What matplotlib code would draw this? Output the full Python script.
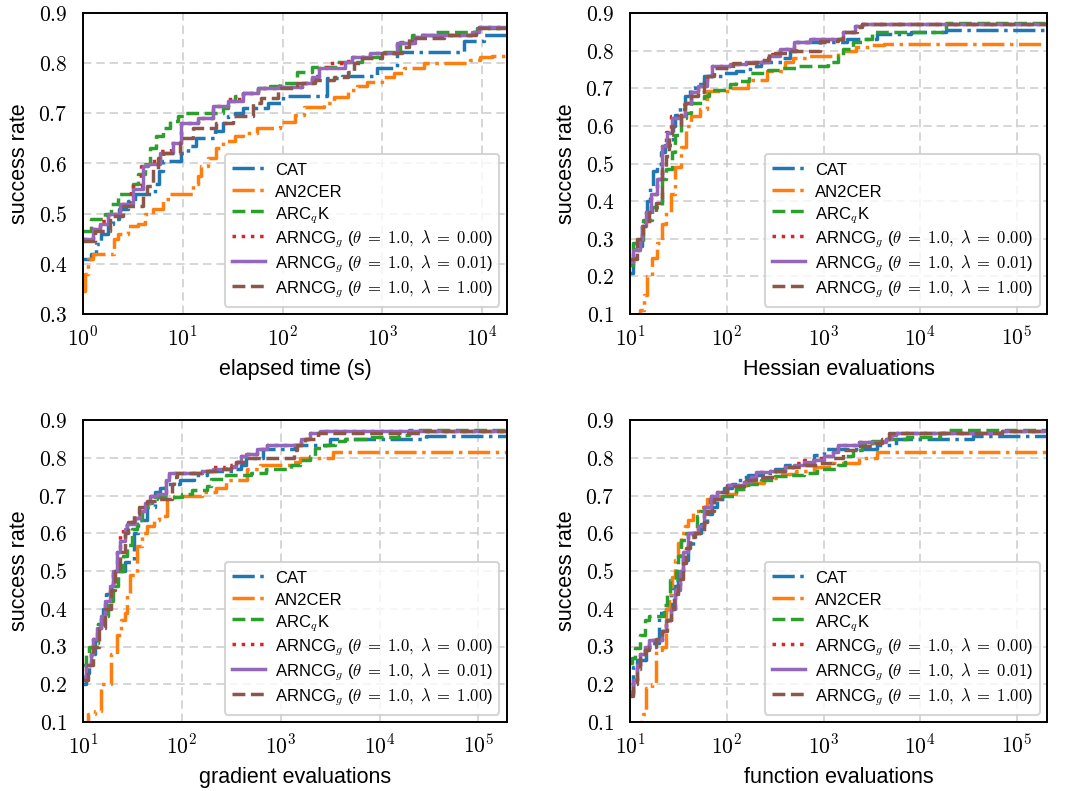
import numpy as np
import matplotlib
matplotlib.use("Agg")
import matplotlib.pyplot as plt
from matplotlib.ticker import FuncFormatter, LogLocator, NullLocator, MultipleLocator

# solvers and their styles
solvers = ["CAT", "AN2CER", r"ARC$_q$K",
           r"ARNCG$_g$ ($\theta\;=\;1.0,\;\lambda\;=\;0.00$)",
           r"ARNCG$_g$ ($\theta\;=\;1.0,\;\lambda\;=\;0.01$)",
           r"ARNCG$_g$ ($\theta\;=\;1.0,\;\lambda\;=\;1.00$)"]
colors = ["#1f77b4", "#ff7f0e", "#2ca02c", "#d62728", "#9467bd", "#8c564b"]
styles = ["-.", "-.", "--", ":", "-", "--"]

# ---- elapsed time (log10 of seconds, success rate) ----
time_cat_lx = [0, 0.08, 0.13, 0.18, 0.25, 0.3, 0.36, 0.45, 0.52, 0.72, 0.76, 0.8, 0.98, 1.05, 1.13, 1.32, 1.4, 1.45, 1.52, 1.6, 1.85, 2.0, 2.45, 2.6, 2.95, 3.15, 3.82, 4.02, 4.25]
time_cat_y = [0.41, 0.42, 0.44, 0.46, 0.48, 0.49, 0.51, 0.525, 0.54, 0.56, 0.585, 0.605, 0.62, 0.635, 0.65, 0.665, 0.68, 0.695, 0.70, 0.71, 0.72, 0.735, 0.77, 0.775, 0.79, 0.823, 0.845, 0.857, 0.857]
time_an2_lx = [0, 0.02, 0.05, 0.1, 0.31, 0.35, 0.45, 0.55, 0.62, 0.7, 0.8, 0.87, 1.1, 1.15, 1.18, 1.25, 1.33, 1.4, 1.52, 1.6, 1.74, 1.97, 2.12, 2.22, 2.42, 2.52, 2.66, 2.75, 2.85, 3.0, 3.12, 3.22, 3.42, 3.88, 3.98, 4.1, 4.25]
time_an2_y = [0.345, 0.38, 0.41, 0.42, 0.45, 0.46, 0.475, 0.48, 0.50, 0.51, 0.53, 0.54, 0.56, 0.575, 0.595, 0.61, 0.63, 0.645, 0.655, 0.66, 0.67, 0.683, 0.697, 0.713, 0.72, 0.733, 0.747, 0.755, 0.763, 0.773, 0.78, 0.79, 0.80, 0.807, 0.813, 0.815, 0.815]
time_arc_lx = [0, 0.08, 0.22, 0.28, 0.35, 0.5, 0.55, 0.62, 0.67, 0.73, 0.8, 0.87, 0.95, 1.02, 1.4, 1.45, 1.52, 1.6, 1.75, 1.87, 1.97, 2.15, 2.3, 2.55, 2.8, 3.02, 3.18, 3.3, 3.5, 3.95, 4.25]
time_arc_y = [0.465, 0.49, 0.50, 0.52, 0.54, 0.56, 0.58, 0.60, 0.63, 0.655, 0.67, 0.685, 0.695, 0.70, 0.71, 0.725, 0.735, 0.74, 0.75, 0.755, 0.76, 0.783, 0.793, 0.803, 0.813, 0.823, 0.843, 0.857, 0.863, 0.87, 0.87]
time_l0_lx = [0, 0.1, 0.17, 0.25, 0.37, 0.48, 0.58, 0.65, 0.77, 0.88, 0.98, 1.15, 1.3, 1.45, 1.6, 1.75, 1.95, 2.2, 2.3, 2.37, 2.45, 2.63, 2.7, 2.88, 3.15, 3.3, 3.4, 3.9, 3.97, 4.25]
time_l0_y = [0.45, 0.47, 0.485, 0.50, 0.52, 0.555, 0.595, 0.605, 0.625, 0.64, 0.68, 0.69, 0.715, 0.728, 0.74, 0.75, 0.752, 0.76, 0.775, 0.79, 0.80, 0.805, 0.813, 0.82, 0.84, 0.852, 0.857, 0.863, 0.872, 0.872]
time_l1_lx = [0, 0.1, 0.17, 0.25, 0.37, 0.5, 0.6, 0.65, 0.77, 0.9, 0.98, 1.15, 1.3, 1.45, 1.6, 1.75, 1.95, 2.2, 2.3, 2.37, 2.63, 2.7, 2.88, 3.15, 3.33, 3.4, 3.9, 3.97, 4.25]
time_l1_y = [0.45, 0.47, 0.48, 0.50, 0.52, 0.55, 0.595, 0.60, 0.62, 0.64, 0.68, 0.69, 0.715, 0.725, 0.74, 0.75, 0.752, 0.76, 0.773, 0.79, 0.803, 0.813, 0.82, 0.84, 0.852, 0.857, 0.863, 0.872, 0.872]
time_l2_lx = [0, 0.12, 0.27, 0.4, 0.6, 0.64, 0.7, 0.75, 0.8, 0.97, 1.1, 1.33, 1.5, 1.7, 1.78, 1.95, 2.15, 2.33, 2.52, 2.66, 2.72, 2.8, 3.0, 3.2, 3.27, 3.62, 3.94, 4.25]
time_l2_y = [0.445, 0.465, 0.495, 0.515, 0.54, 0.555, 0.59, 0.61, 0.62, 0.65, 0.67, 0.68, 0.695, 0.72, 0.73, 0.75, 0.76, 0.767, 0.773, 0.783, 0.80, 0.81, 0.82, 0.833, 0.85, 0.857, 0.87, 0.87]

# ---- Hessian evaluations ----
hess_cat_lx = [1.0, 1.03, 1.06, 1.12, 1.15, 1.18, 1.21, 1.24, 1.28, 1.32, 1.36, 1.44, 1.47, 1.52, 1.57, 1.62, 1.67, 1.77, 1.97, 2.1, 2.2, 2.3, 2.35, 2.57, 2.65, 2.72, 3.24, 3.55, 3.9, 4.27, 5.31]
hess_cat_y = [0.21, 0.25, 0.28, 0.33, 0.36, 0.40, 0.44, 0.48, 0.50, 0.53, 0.55, 0.60, 0.63, 0.655, 0.68, 0.70, 0.71, 0.733, 0.74, 0.745, 0.75, 0.76, 0.769, 0.78, 0.80, 0.822, 0.832, 0.844, 0.85, 0.856, 0.856]
hess_an2_lx = [1.0, 1.1, 1.14, 1.18, 1.23, 1.28, 1.33, 1.37, 1.42, 1.47, 1.53, 1.58, 1.63, 1.72, 1.8, 2.03, 2.22, 2.42, 2.6, 2.68, 2.84, 3.15, 3.34, 3.5, 3.63, 5.31]
hess_an2_y = [0.09, 0.11, 0.15, 0.2, 0.25, 0.29, 0.34, 0.37, 0.42, 0.49, 0.545, 0.60, 0.625, 0.645, 0.693, 0.70, 0.722, 0.745, 0.77, 0.78, 0.786, 0.80, 0.81, 0.815, 0.818, 0.818]
hess_arc_lx = [1.0, 1.03, 1.13, 1.23, 1.33, 1.37, 1.43, 1.47, 1.53, 1.58, 1.63, 1.77, 1.82, 2.03, 2.1, 2.23, 2.43, 2.55, 2.72, 3.05, 3.15, 3.2, 3.3, 3.4, 3.5, 4.27, 5.31]
hess_arc_y = [0.23, 0.29, 0.35, 0.385, 0.46, 0.485, 0.53, 0.575, 0.62, 0.635, 0.66, 0.68, 0.695, 0.71, 0.72, 0.74, 0.748, 0.755, 0.76, 0.77, 0.787, 0.805, 0.822, 0.832, 0.85, 0.873, 0.873]
hess_l0_lx = [1.0, 1.03, 1.1, 1.12, 1.17, 1.22, 1.28, 1.33, 1.37, 1.42, 1.53, 1.57, 1.63, 1.7, 1.8, 1.85, 2.03, 2.2, 2.4, 2.47, 2.55, 2.69, 2.86, 3.2, 3.33, 3.4, 5.31]
hess_l0_y = [0.237, 0.27, 0.30, 0.333, 0.37, 0.42, 0.46, 0.547, 0.585, 0.625, 0.63, 0.66, 0.69, 0.705, 0.733, 0.76, 0.765, 0.77, 0.78, 0.79, 0.805, 0.822, 0.832, 0.85, 0.866, 0.872, 0.872]
hess_l1_lx = [1.0, 1.03, 1.1, 1.12, 1.17, 1.22, 1.28, 1.33, 1.38, 1.43, 1.53, 1.57, 1.63, 1.7, 1.8, 1.85, 2.03, 2.2, 2.44, 2.55, 2.69, 2.86, 3.2, 3.33, 3.4, 5.31]
hess_l1_y = [0.237, 0.27, 0.30, 0.333, 0.37, 0.42, 0.46, 0.547, 0.58, 0.62, 0.625, 0.66, 0.69, 0.705, 0.733, 0.76, 0.765, 0.77, 0.787, 0.805, 0.822, 0.832, 0.85, 0.866, 0.872, 0.872]
hess_l2_lx = [1.0, 1.07, 1.13, 1.2, 1.27, 1.33, 1.37, 1.4, 1.43, 1.53, 1.57, 1.63, 1.7, 1.77, 1.8, 1.87, 2.06, 2.31, 2.44, 2.62, 2.96, 3.15, 3.2, 3.35, 3.4, 5.31]
hess_l2_y = [0.245, 0.3, 0.335, 0.37, 0.395, 0.485, 0.52, 0.575, 0.60, 0.645, 0.66, 0.68, 0.69, 0.725, 0.733, 0.755, 0.768, 0.776, 0.795, 0.80, 0.825, 0.832, 0.85, 0.864, 0.872, 0.872]

# ---- gradient evaluations ----
grad_cat_lx = [1.0, 1.03, 1.06, 1.08, 1.12, 1.15, 1.2, 1.23, 1.28, 1.3, 1.42, 1.52, 1.56, 1.65, 1.73, 1.78, 1.83, 1.98, 2.12, 2.25, 2.55, 2.6, 2.65, 2.82, 3.15, 3.5, 4.47, 5.29]
grad_cat_y = [0.2, 0.23, 0.25, 0.28, 0.32, 0.36, 0.40, 0.44, 0.46, 0.50, 0.525, 0.60, 0.635, 0.67, 0.71, 0.72, 0.73, 0.742, 0.755, 0.765, 0.77, 0.78, 0.80, 0.824, 0.835, 0.849, 0.857, 0.857]
grad_an2_lx = [1.0, 1.05, 1.12, 1.18, 1.28, 1.34, 1.38, 1.42, 1.45, 1.48, 1.55, 1.6, 1.65, 1.72, 1.77, 1.85, 1.92, 2.2, 2.35, 2.45, 2.66, 2.79, 3.1, 3.2, 3.53, 5.29]
grad_an2_y = [0.08, 0.12, 0.13, 0.2, 0.28, 0.33, 0.37, 0.39, 0.44, 0.49, 0.565, 0.6, 0.62, 0.635, 0.645, 0.69, 0.70, 0.71, 0.72, 0.74, 0.77, 0.78, 0.79, 0.80, 0.815, 0.815]
grad_arc_lx = [1.0, 1.03, 1.06, 1.1, 1.15, 1.2, 1.25, 1.3, 1.35, 1.4, 1.45, 1.5, 1.55, 1.6, 1.65, 1.7, 1.75, 2.0, 2.1, 2.25, 2.3, 2.45, 2.7, 2.85, 3.1, 3.2, 3.3, 3.35, 3.45, 3.55, 3.65, 3.9, 4.2, 4.3, 5.29]
grad_arc_y = [0.25, 0.28, 0.3, 0.31, 0.36, 0.38, 0.42, 0.46, 0.5, 0.54, 0.57, 0.61, 0.635, 0.66, 0.68, 0.69, 0.695, 0.705, 0.715, 0.725, 0.745, 0.754, 0.76, 0.769, 0.78, 0.795, 0.805, 0.826, 0.835, 0.845, 0.85, 0.855, 0.86, 0.873, 0.873]
grad_l0_lx = [1.0, 1.03, 1.08, 1.1, 1.14, 1.18, 1.22, 1.27, 1.3, 1.34, 1.37, 1.4, 1.45, 1.53, 1.58, 1.63, 1.68, 1.75, 1.84, 1.87, 2.2, 2.3, 2.45, 2.52, 2.6, 2.65, 2.76, 2.86, 3.21, 3.3, 3.4, 5.29]
grad_l0_y = [0.22, 0.25, 0.28, 0.32, 0.35, 0.38, 0.42, 0.46, 0.5, 0.55, 0.6, 0.62, 0.63, 0.64, 0.66, 0.68, 0.70, 0.705, 0.74, 0.76, 0.765, 0.775, 0.78, 0.79, 0.805, 0.81, 0.824, 0.835, 0.85, 0.866, 0.87, 0.87]
grad_l1_lx = [1.0, 1.03, 1.08, 1.1, 1.14, 1.18, 1.22, 1.27, 1.3, 1.34, 1.37, 1.42, 1.45, 1.53, 1.58, 1.63, 1.68, 1.75, 1.84, 1.87, 2.2, 2.32, 2.5, 2.55, 2.6, 2.65, 2.76, 2.86, 3.21, 3.3, 3.4, 5.29]
grad_l1_y = [0.22, 0.25, 0.28, 0.32, 0.35, 0.38, 0.42, 0.46, 0.5, 0.55, 0.58, 0.61, 0.625, 0.64, 0.66, 0.68, 0.70, 0.705, 0.74, 0.76, 0.765, 0.77, 0.775, 0.79, 0.805, 0.81, 0.824, 0.835, 0.85, 0.866, 0.87, 0.87]
grad_l2_lx = [1.0, 1.05, 1.1, 1.16, 1.22, 1.28, 1.32, 1.37, 1.42, 1.46, 1.52, 1.57, 1.65, 1.75, 1.9, 1.92, 1.95, 2.2, 2.35, 2.5, 2.55, 2.65, 3.13, 3.17, 3.25, 3.38, 4.45, 5.29]
grad_l2_y = [0.21, 0.25, 0.3, 0.35, 0.4, 0.45, 0.5, 0.55, 0.6, 0.63, 0.65, 0.67, 0.685, 0.69, 0.73, 0.75, 0.76, 0.765, 0.77, 0.775, 0.79, 0.80, 0.82, 0.833, 0.85, 0.866, 0.872, 0.872]

# ---- function evaluations ----
func_cat_lx = [1.0, 1.03, 1.07, 1.17, 1.23, 1.3, 1.37, 1.42, 1.45, 1.5, 1.55, 1.6, 1.65, 1.73, 1.8, 1.85, 1.9, 1.97, 2.05, 2.14, 2.22, 2.4, 2.5, 2.6, 2.9, 3.0, 3.55, 3.75, 4.54, 5.31]
func_cat_y = [0.175, 0.245, 0.265, 0.30, 0.31, 0.39, 0.40, 0.455, 0.46, 0.495, 0.53, 0.56, 0.6, 0.625, 0.65, 0.67, 0.69, 0.72, 0.73, 0.75, 0.755, 0.76, 0.77, 0.78, 0.806, 0.822, 0.835, 0.849, 0.857, 0.857]
func_an2_lx = [1.0, 1.1, 1.13, 1.17, 1.23, 1.27, 1.33, 1.37, 1.4, 1.43, 1.47, 1.5, 1.53, 1.57, 1.6, 1.65, 1.72, 1.8, 1.87, 1.97, 2.1, 2.2, 2.38, 2.57, 2.72, 2.9, 3.06, 3.37, 3.55, 5.31]
func_an2_y = [0.08, 0.1, 0.12, 0.19, 0.2, 0.29, 0.30, 0.40, 0.44, 0.485, 0.53, 0.575, 0.6, 0.62, 0.635, 0.66, 0.67, 0.69, 0.698, 0.705, 0.716, 0.734, 0.747, 0.756, 0.765, 0.775, 0.787, 0.80, 0.815, 0.815]
func_arc_lx = [1.0, 1.02, 1.05, 1.1, 1.15, 1.2, 1.35, 1.38, 1.41, 1.48, 1.5, 1.53, 1.58, 1.69, 1.72, 1.83, 1.95, 2.1, 2.22, 2.35, 2.5, 2.66, 2.8, 2.93, 3.15, 3.22, 3.3, 3.4, 3.5, 3.65, 3.86, 4.2, 4.3, 5.31]
func_arc_y = [0.255, 0.27, 0.296, 0.33, 0.37, 0.38, 0.41, 0.44, 0.476, 0.5, 0.54, 0.583, 0.6, 0.645, 0.66, 0.69, 0.70, 0.716, 0.73, 0.74, 0.751, 0.755, 0.76, 0.77, 0.78, 0.804, 0.82, 0.835, 0.845, 0.85, 0.855, 0.865, 0.873, 0.873]
func_l0_lx = [1.0, 1.03, 1.07, 1.1, 1.15, 1.2, 1.33, 1.37, 1.42, 1.47, 1.52, 1.55, 1.6, 1.7, 1.76, 1.84, 1.9, 2.0, 2.18, 2.25, 2.3, 2.45, 2.6, 2.7, 2.8, 2.9, 3.0, 3.1, 3.15, 3.37, 3.65, 3.7, 3.75, 4.85, 5.31]
func_l0_y = [0.18, 0.21, 0.25, 0.28, 0.30, 0.316, 0.34, 0.37, 0.40, 0.45, 0.50, 0.55, 0.60, 0.62, 0.67, 0.70, 0.71, 0.727, 0.735, 0.75, 0.762, 0.765, 0.775, 0.785, 0.795, 0.80, 0.805, 0.815, 0.833, 0.842, 0.85, 0.86, 0.866, 0.872, 0.872]
func_l1_lx = [1.0, 1.03, 1.07, 1.1, 1.15, 1.2, 1.33, 1.37, 1.42, 1.47, 1.52, 1.55, 1.6, 1.7, 1.76, 1.84, 1.9, 2.0, 2.18, 2.25, 2.3, 2.45, 2.6, 2.7, 2.8, 2.9, 3.0, 3.1, 3.15, 3.37, 3.65, 3.7, 3.75, 4.85, 5.31]
func_l1_y = [0.18, 0.21, 0.25, 0.28, 0.30, 0.316, 0.34, 0.37, 0.40, 0.45, 0.50, 0.55, 0.60, 0.62, 0.67, 0.70, 0.71, 0.727, 0.735, 0.75, 0.762, 0.765, 0.775, 0.78, 0.79, 0.795, 0.805, 0.815, 0.833, 0.842, 0.85, 0.86, 0.866, 0.872, 0.872]
func_l2_lx = [1.0, 1.03, 1.07, 1.1, 1.15, 1.2, 1.27, 1.33, 1.38, 1.42, 1.45, 1.5, 1.55, 1.58, 1.62, 1.67, 1.76, 1.8, 1.87, 1.95, 2.0, 2.2, 2.3, 2.5, 2.6, 2.8, 2.95, 3.1, 3.2, 3.35, 3.5, 3.6, 3.68, 4.85, 5.31]
func_l2_y = [0.17, 0.2, 0.24, 0.27, 0.29, 0.30, 0.32, 0.34, 0.37, 0.40, 0.44, 0.48, 0.52, 0.56, 0.59, 0.60, 0.63, 0.66, 0.69, 0.71, 0.725, 0.742, 0.75, 0.765, 0.775, 0.78, 0.787, 0.80, 0.82, 0.83, 0.84, 0.85, 0.866, 0.872, 0.872]

panels = [
    ("elapsed time (s)", (1, 10 ** 4.25), (0.3, 0.9),
     [(time_cat_lx, time_cat_y), (time_an2_lx, time_an2_y), (time_arc_lx, time_arc_y),
      (time_l0_lx, time_l0_y), (time_l1_lx, time_l1_y), (time_l2_lx, time_l2_y)]),
    ("Hessian evaluations", (10, 10 ** 5.31), (0.1, 0.9),
     [(hess_cat_lx, hess_cat_y), (hess_an2_lx, hess_an2_y), (hess_arc_lx, hess_arc_y),
      (hess_l0_lx, hess_l0_y), (hess_l1_lx, hess_l1_y), (hess_l2_lx, hess_l2_y)]),
    ("gradient evaluations", (10, 10 ** 5.29), (0.1, 0.9),
     [(grad_cat_lx, grad_cat_y), (grad_an2_lx, grad_an2_y), (grad_arc_lx, grad_arc_y),
      (grad_l0_lx, grad_l0_y), (grad_l1_lx, grad_l1_y), (grad_l2_lx, grad_l2_y)]),
    ("function evaluations", (10, 10 ** 5.31), (0.1, 0.9),
     [(func_cat_lx, func_cat_y), (func_an2_lx, func_an2_y), (func_arc_lx, func_arc_y),
      (func_l0_lx, func_l0_y), (func_l1_lx, func_l1_y), (func_l2_lx, func_l2_y)]),
]

# axes rectangles in pixels (left, top, width, height)
W, H = 1070, 791
rects = [(83, 13, 424, 301), (630, 13, 417, 301),
         (83, 420, 424, 302), (630, 420, 417, 302)]

plt.rcParams["font.family"] = ["Liberation Sans", "DejaVu Sans"]
plt.rcParams["mathtext.fontset"] = "cm"

fig = plt.figure(figsize=(W / 100, H / 100), dpi=100)

for (xlabel, xlim, ylim, series), (px, py, pw, ph) in zip(panels, rects):
    ax = fig.add_axes([px / W, 1 - (py + ph) / H, pw / W, ph / H])
    for (lx, y), name, c, ls in zip(series, solvers, colors, styles):
        ax.step(np.power(10.0, lx), y, where="post", color=c, linestyle=ls,
                linewidth=2.5, label=name)
    ax.set_xscale("log")
    ax.set_xlim(*xlim)
    ax.set_ylim(*ylim)
    ax.xaxis.set_major_locator(LogLocator(base=10, numticks=12))
    ax.xaxis.set_minor_locator(NullLocator())
    ax.yaxis.set_major_locator(MultipleLocator(0.1))
    ax.xaxis.set_major_formatter(FuncFormatter(
        lambda v, p: r"$\mathrm{10}^{%d}$" % int(round(np.log10(v)))))
    ax.yaxis.set_major_formatter(FuncFormatter(lambda v, p: r"$\mathrm{%.1f}$" % v))
    ax.tick_params(length=0, labelsize=15.5)
    ax.tick_params(axis="y", pad=11)
    ax.tick_params(axis="x", pad=9)
    ax.grid(True, color="#cfcfcf", linestyle=(0, (5, 3)), linewidth=1.2)
    for s in ax.spines.values():
        s.set_linewidth(1.4)
        s.set_color("black")
    ax.set_xlabel(xlabel, fontsize=15.5, labelpad=6)
    ax.set_ylabel("success rate", fontsize=15.5, labelpad=6)
    # taller handle boxes keep the six rows more evenly spaced
    leg = ax.legend(loc="lower right", fontsize=12, framealpha=0.8,
                    edgecolor="#cccccc", fancybox=True, labelspacing=0.18,
                    handlelength=2.0, handleheight=1.35, handletextpad=0.6,
                    borderaxespad=0.45)
    leg.get_frame().set_linewidth(1.5)

fig.savefig("out.png", dpi=100)
